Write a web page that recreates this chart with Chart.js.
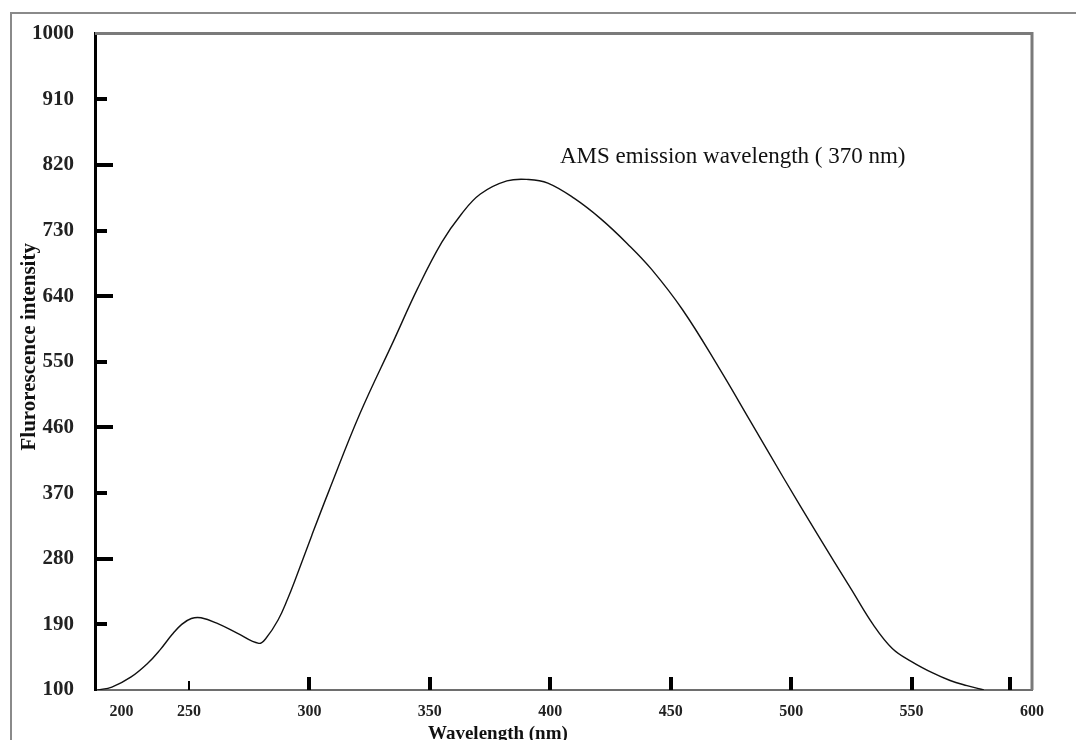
<!DOCTYPE html>
<html>
<head>
<meta charset="utf-8">
<script src="https://cdn.jsdelivr.net/npm/chart.js@4"></script>
<style>
  body { margin: 0; background: #fff; }
  #wrap { position: relative; width: 1076px; height: 740px; }
  .frame { position: absolute; left: 10px; top: 12px; right: 0; bottom: 0;
           border-top: 2px solid #8a8a8a; border-left: 2px solid #8a8a8a; pointer-events: none; }
</style>
</head>
<body>
<div id="wrap">
  <canvas id="spectrum" width="1076" height="740"></canvas>
  <div class="frame"></div>
</div>
<script>
// values
const wavelength = [212, 218, 226, 233, 238, 243, 247, 251, 255, 262, 270, 279, 282, 287, 291, 294,
    301, 308, 321, 335, 345, 355, 363, 371, 382, 391, 399, 410, 421, 432, 442, 455,
    470, 483, 497, 511, 525, 534, 542, 550, 559, 566, 573, 580];
const intensity = [100, 104, 118, 137, 155, 176, 190, 198, 199, 191, 178, 164, 171, 196, 225, 250,
    312, 372, 479, 579, 651, 714, 752, 780, 798, 800, 795, 774, 746, 712, 677, 621,
    542, 469, 390, 313, 238, 190, 157, 139, 123, 113, 106, 100];

const yTicks = [100, 190, 280, 370, 460, 550, 640, 730, 820, 910, 1000];
const xTickPos = [222, 250, 300, 350, 400, 450, 500, 550, 600];
const xTickLabels = ['200', '250', '300', '350', '400', '450', '500', '550', '600'];
const xMarks = [250, 300, 350, 400, 450, 500, 550, 591];

const noteText = 'AMS emission wavelength ( 370 nm)';
const noteAt = [404, 831];

const serif = '"Liberation Serif", "Times New Roman", serif';

const decor = {
    id: 'decor',
    afterDraw(chart) {
        const { ctx, chartArea: a, scales: { x, y } } = chart;
        ctx.save();
        // grey top/right frame of the plot
        ctx.strokeStyle = '#7a7a7a';
        ctx.lineWidth = 3;
        ctx.beginPath();
        ctx.moveTo(a.left, a.top);
        ctx.lineTo(a.right, a.top);
        ctx.lineTo(a.right, a.bottom);
        ctx.stroke();

        // inward tick marks
        ctx.fillStyle = '#000';
        yTicks.slice(1, -1).forEach((v, i) => {
            const len = i % 2 ? 18 : 12;
            ctx.fillRect(a.left, Math.round(y.getPixelForValue(v)) - 2, len, 4);
        });
        xMarks.forEach((v, i) => {
            const px = Math.round(x.getPixelForValue(v));
            if (i === 0) ctx.fillRect(px - 1, a.bottom - 9, 2, 9);
            else ctx.fillRect(px - 2, a.bottom - 13, 4, 13);
        });

        // annotation
        ctx.fillStyle = '#111';
        ctx.font = '23px ' + serif;
        ctx.textAlign = 'left';
        ctx.textBaseline = 'middle';
        ctx.fillText(noteText, x.getPixelForValue(noteAt[0]), y.getPixelForValue(noteAt[1]));

        // axis titles
        ctx.font = 'bold 19px ' + serif;
        ctx.textAlign = 'center';
        ctx.textBaseline = 'top';
        ctx.fillText('Wavelength (nm)', a.left + (a.right - a.left) * 0.43, 725);

        ctx.font = 'bold 21px ' + serif;
        ctx.translate(a.left - 65, (a.top + a.bottom) / 2 - 15);
        ctx.rotate(-Math.PI / 2);
        ctx.textBaseline = 'middle';
        ctx.fillText('Flurorescence intensity', 0, 0);
        ctx.restore();
    }
};

new Chart(document.getElementById('spectrum'), {
    type: 'line',
    data: {
        datasets: [{
            data: wavelength.map((w, i) => ({ x: w, y: intensity[i] })),
            borderColor: '#111',
            borderWidth: 1.4,
            pointRadius: 0,
            fill: false,
            tension: 0.4
        }]
    },
    options: {
        responsive: false,
        animation: false,
        layout: { padding: { top: 32, right: 44, left: 0, bottom: 0 } },
        plugins: { legend: { display: false }, tooltip: { enabled: false } },
        scales: {
            x: {
                type: 'linear',
                min: 211,
                max: 600,
                afterBuildTicks: s => { s.ticks = xTickPos.map(v => ({ value: v })); },
                afterFit: s => { s.height = 50; },
                grid: { display: false, drawTicks: false },
                border: { color: '#6e6e6e', width: 2 },
                ticks: {
                    autoSkip: false,
                    maxRotation: 0,
                    padding: 12,
                    color: '#222',
                    font: { family: serif, size: 16, weight: 'bold' },
                    callback: (v, i) => xTickLabels[i]
                }
            },
            y: {
                min: 100,
                max: 1000,
                afterBuildTicks: s => { s.ticks = yTicks.map(v => ({ value: v })); },
                afterFit: s => { s.width = 95; },
                grid: { display: false, drawTicks: false },
                border: { color: '#000', width: 3 },
                ticks: {
                    padding: 21,
                    color: '#222',
                    font: { family: serif, size: 21, weight: 'bold' },
                    callback: v => String(v)
                }
            }
        }
    },
    plugins: [decor]
});
</script>
</body>
</html>
